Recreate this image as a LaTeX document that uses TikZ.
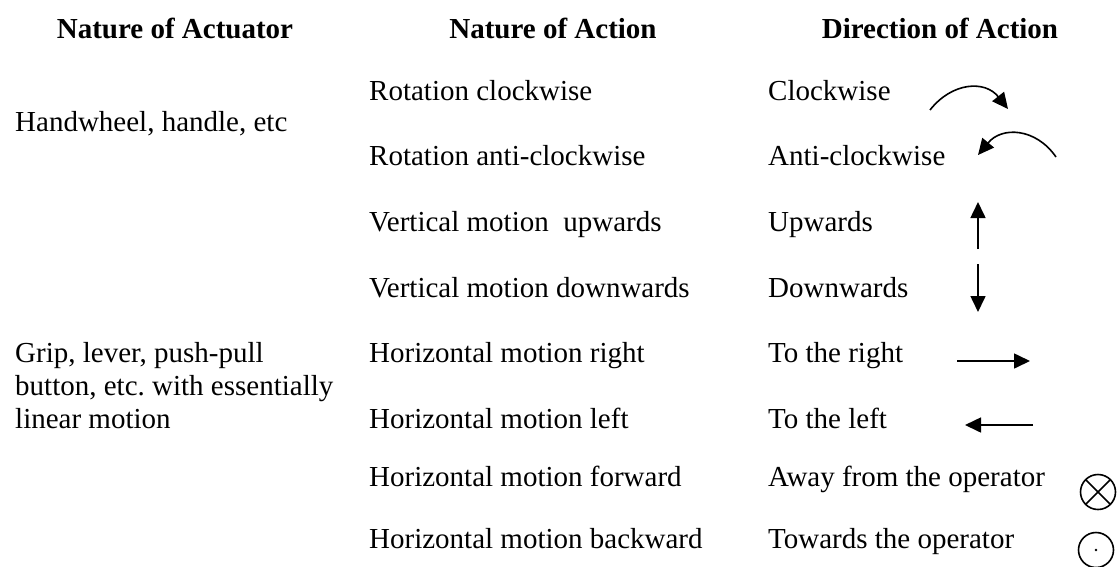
\documentclass[tikz,border=0pt]{standalone}
\usepackage{fontspec}
\setmainfont{Liberation Serif}
\usetikzlibrary{arrows.meta,calc}
\frenchspacing

\tikzset{
  txt/.style={anchor=base west, inner sep=0pt, font=\fontsize{29}{33}\selectfont},
  head/.style={anchor=base, inner sep=0pt, font=\fontsize{29}{33}\selectfont\bfseries},
  dirarrow/.style={line width=1.6pt, -{Triangle[length=16pt,width=15pt]}},
  symb/.style={line width=1.6pt}
}

\begin{document}
\begin{tikzpicture}[x=1pt, y=-1pt]
\useasboundingbox (0,0) rectangle (1119,566);

% column headings
\node[head] (h1) at (175,38) {Nature of Actuator};
\node[head] (h2) at (553,38) {Nature of Action};
\node[head] (h3) at (940,38) {Direction of Action};

% nature of actuator (multi-line node: anchored at its last baseline)
\node[txt] (a1) at (15,131) {Handwheel, handle, etc};
\node[txt, align=left] (a2) at (15,428) {Grip, lever, push-pull\\button, etc. with essentially\\linear motion};

% nature of action
\node[txt] (n1) at (369,100) {Rotation clockwise};
\node[txt] (n2) at (369,165) {Rotation anti-clockwise};
\node[txt] (n3) at (369,231) {Vertical motion\ \ upwards};
\node[txt] (n4) at (369,297) {Vertical motion downwards};
\node[txt] (n5) at (369,362) {Horizontal motion right};
\node[txt] (n6) at (369,428) {Horizontal motion left};
\node[txt] (n7) at (369,486) {Horizontal motion forward};
\node[txt] (n8) at (369,548) {Horizontal motion backward};

% direction of action
\node[txt] (d1) at (768,100) {Clockwise};
\node[txt] (d2) at (768,165) {Anti-clockwise};
\node[txt] (d3) at (768,231) {Upwards};
\node[txt] (d4) at (768,297) {Downwards};
\node[txt] (d5) at (768,362) {To the right};
\node[txt] (d6) at (768,428) {To the left};
\node[txt] (d7) at (768,486) {Away from the operator};
\node[txt] (d8) at (768,548) {Towards the operator};

% direction symbols
\coordinate (cwA) at (930,110);
\coordinate (cwB) at (1008,109);
\draw[dirarrow] (cwA) .. controls (952,82) and (985,80) .. (cwB);

\coordinate (acA) at (1056,157);
\coordinate (acB) at (978,155);
\draw[dirarrow] (acA) .. controls (1036,128) and (1002,126) .. (acB);

\coordinate (upA) at (978,249);
\coordinate (upB) at (978,202);
\draw[dirarrow] (upA) -- (upB);

\coordinate (dnA) at (978,264);
\coordinate (dnB) at (978,312);
\draw[dirarrow] (dnA) -- (dnB);

\coordinate (rtA) at (957,361);
\coordinate (rtB) at (1030,361);
\draw[dirarrow] (rtA) -- (rtB);

\coordinate (ltA) at (1033,425);
\coordinate (ltB) at (965,425);
\draw[dirarrow] (ltA) -- (ltB);

% away from the operator: circle with a cross
\coordinate (away) at (1098,492);
\draw[symb] (away) circle[radius=17.5];
\draw[symb] ($(away)+(-12.4,-12.4)$) -- ($(away)+(12.4,12.4)$);
\draw[symb] ($(away)+(12.4,-12.4)$) -- ($(away)+(-12.4,12.4)$);

% towards the operator: circle with a dot
\coordinate (toward) at (1096,550);
\draw[symb] (toward) circle[radius=17.5];
\fill (toward) circle[radius=1.4];
\end{tikzpicture}
\end{document}
